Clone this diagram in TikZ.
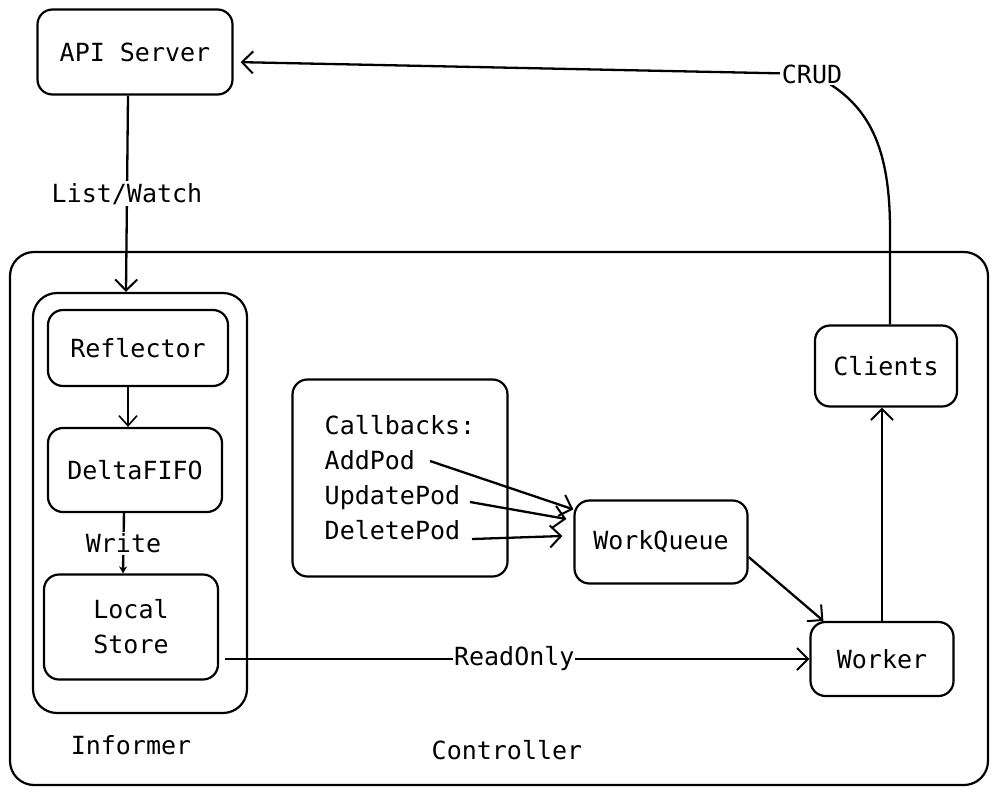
\documentclass[tikz,border=0pt]{standalone}
\usepackage{fontspec}
\setmonofont{DejaVu Sans Mono}
\usetikzlibrary{shapes,arrows.meta,positioning}
\tikzstyle{line} = [draw, line width=2.3pt, -{Straight Barb[length=11pt,width=22pt,line width=2pt]}]
\tikzstyle{thin} = [draw, line width=1.6pt, -{Straight Barb[length=10pt,width=18pt,line width=1.6pt]}]
\tikzstyle{short} = [draw, line width=2.4pt, -{Stealth[length=7pt,width=8pt]}]
\tikzstyle{box} = [rectangle, draw, rounded corners=15pt, line width=2.2pt, align=center, font=\fontsize{25}{35}\selectfont\ttfamily]
\tikzstyle{frame} = [rectangle, draw, rounded corners=24pt, line width=2.2pt]
\tikzstyle{lbl} = [fill=white, inner sep=2pt, font=\fontsize{25}{35}\selectfont\ttfamily]

\begin{document}
\begin{tikzpicture}[x=1pt, y=-1pt]
			\useasboundingbox (0,0) rectangle (998,795);
			% outer frames
			\node [frame, minimum width=978pt, minimum height=533pt] (controller) at (499,518.5) {};
			\node [lbl] at (507,750) {Controller};
			\node [frame, minimum width=214pt, minimum height=420pt] (informer) at (140,503) {};
			\node [lbl] at (131,745) {Informer};
			
			\node [box, minimum width=195pt, minimum height=85pt] (api) at (135,52) {API Server};
			
			% informer parts
			\node [box, minimum width=180pt, minimum height=76pt] (reflector) at (138,348) {Reflector};
			\node [box, minimum width=174pt, minimum height=84pt] (delta) at (135,470) {DeltaFIFO};
			\node [box, minimum width=174pt, minimum height=105pt] (store) at (131,627) {Local\\Store};
			
			\node [box, minimum width=215pt, minimum height=197pt, align=left] (callbacks) at (400,478) {Callbacks:\\AddPod\\UpdatePod\\DeletePod};
			\coordinate (add) at (430,461);
			\coordinate (update) at (470,502);
			\coordinate (delete) at (472,539);
			
			\node [box, minimum width=173pt, minimum height=83pt] (queue) at (661,542) {WorkQueue};
			\node [box, minimum width=143pt, minimum height=74pt] (worker) at (882,659) {Worker};
			\node [box, minimum width=142pt, minimum height=81pt] (clients) at (886,366) {Clients};
			
			% connectors
			\draw [line] ([xshift=-7pt]api.south) -- node [lbl] {List/Watch} ([xshift=-14pt]informer.north);
			\draw [thin] ([xshift=-10pt]reflector.south) -- ([xshift=-7pt]delta.north);
			\draw [short] ([xshift=-11pt]delta.south) -- node [lbl] {Write} ([xshift=-8pt]store.north);
			\draw [line] (add) -- ([yshift=-10pt]queue.north west);
			\draw [line] (update) -- ([xshift=-7pt,yshift=23pt]queue.west);
			\draw [line] (delete) -- ([xshift=-11pt,yshift=6pt]queue.west);
			\draw [line] ([yshift=-15pt]queue.east) -- ([xshift=14pt]worker.north west);
			\draw [line] (worker.north) -- (worker.north |- clients.south);
			\draw [line, shorten <=6pt] ([yshift=-32pt]store.east) -- node [lbl, inner sep=1pt] {ReadOnly} (worker.west);
			\draw [line, shorten >=7pt] ([xshift=4pt]clients.north) -- (890,230) .. controls (890,140) and (865,100) .. (812,74) node [lbl] {CRUD} -- ([yshift=-10pt]api.east);
		\end{tikzpicture}
\end{document}
